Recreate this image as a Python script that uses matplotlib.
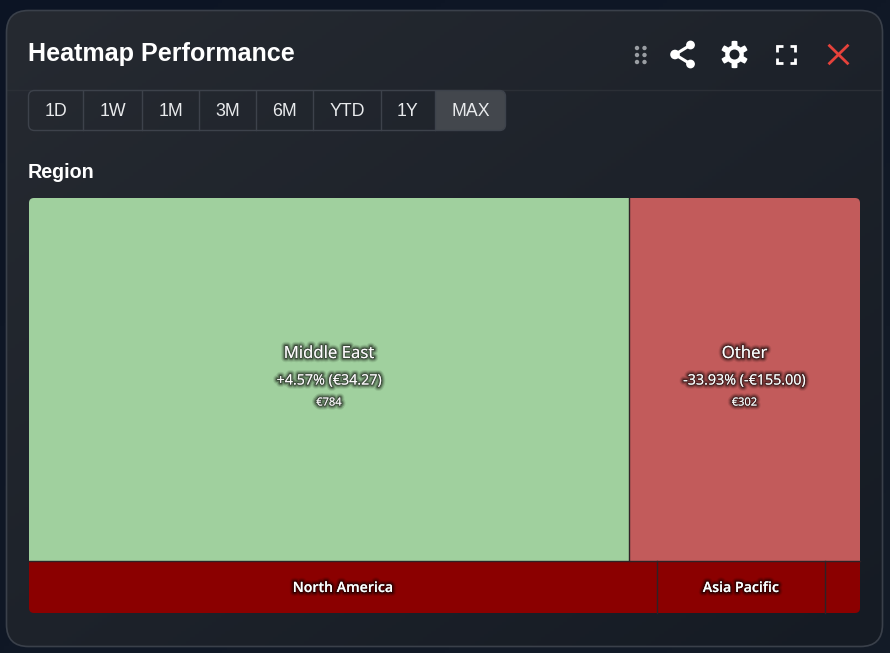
import numpy as np
import matplotlib
matplotlib.use("Agg")
import matplotlib.pyplot as plt
from matplotlib.patches import FancyBboxPatch, Rectangle, Circle, Polygon
import matplotlib.patheffects as pe

# treemap rows, values (EUR)
top_names = ["Middle East", "Other"]
top_values = [784, 302]
top_perf = ["+4.57% (€34.27)", "-33.93% (-€155.00)"]
top_amount = ["€784", "€302"]
top_colors = ["#a0d09e", "#c25b5b"]

bottom_names = ["North America", "Asia Pacific", ""]
bottom_values = [117.9, 31.5, 6.6]
bottom_colors = ["#8b0000", "#8b0000", "#8b0000"]

ranges = ["1D", "1W", "1M", "3M", "6M", "YTD", "1Y", "MAX"]
range_edges = [28, 83, 142, 199, 256, 313, 381, 435, 506]

BOX_X, BOX_Y, BOX_W, BOX_H = 29, 198, 831, 415

fig = plt.figure(figsize=(8.9, 6.53), dpi=100)
ax = fig.add_axes([0, 0, 1, 1])
ax.set_xlim(0, 890)
ax.set_ylim(653, 0)
ax.axis("off")


def gradient(c1, c2, n=200):
    # diagonal blend, top left to bottom right
    xx, yy = np.meshgrid(np.linspace(0, 1, n), np.linspace(0, 1, n))
    t = ((xx + yy) / 2)[..., None]
    return (1 - t) * np.array(matplotlib.colors.to_rgb(c1)) + t * np.array(matplotlib.colors.to_rgb(c2))


# page background
ax.imshow(gradient("#0c1424", "#141c28"), extent=(0, 890, 653, 0), aspect="auto", zorder=0)

# card
card = FancyBboxPatch((6.5, 10.5), 876, 636, boxstyle="round,pad=0,rounding_size=22",
                      fc="none", ec="#3a404a", lw=1.2, zorder=3)
ax.add_patch(card)
im = ax.imshow(gradient("#262a31", "#151b24"), extent=(6, 883, 647, 10), aspect="auto", zorder=1)
im.set_clip_path(card)
ax.set_xlim(0, 890)
ax.set_ylim(653, 0)

ax.plot([7, 882], [89.5, 89.5], color="#2b2f36", lw=1, zorder=2)

ax.text(28, 54, "Heatmap Performance", color="white", fontsize=18.1, fontweight="bold",
        family="Liberation Sans", va="center", ha="left", zorder=5)
ax.text(28, 172.5, "Region", color="white", fontsize=14.2, fontweight="bold",
        family="Liberation Sans", va="center", ha="left", zorder=5)

# range selector
sel_box = FancyBboxPatch((range_edges[0] + .5, 90.5), range_edges[-1] - range_edges[0] - 1, 40,
                         boxstyle="round,pad=0,rounding_size=6", fc="none", ec="#3d424b", lw=1, zorder=4)
ax.add_patch(sel_box)
active = Rectangle((range_edges[-2], 90), range_edges[-1] - range_edges[-2], 41, fc="#43474d", ec="none", zorder=2)
ax.add_patch(active)
active.set_clip_path(sel_box)
for i, lab in enumerate(ranges):
    ax.text((range_edges[i] + range_edges[i + 1]) / 2, 111, lab, color="#e8eaec", fontsize=12.8,
            family="Liberation Sans", ha="center", va="center", zorder=5)
    if i > 0:
        ax.plot([range_edges[i] - .5] * 2, [91, 130], color="#3d424b", lw=1, zorder=4)

# header icons
for dx in (637, 644.5):
    for dy in (48, 55, 62):
        ax.add_patch(Circle((dx, dy), 2.2, fc="#9a9ea3", ec="none", zorder=5))

# share
share_pts = [(690.5, 45), (675, 54.5), (690.5, 64)]
ax.plot([p[0] for p in share_pts], [p[1] for p in share_pts], color="white", lw=2.2, zorder=5)
for p, r in zip(share_pts, (4.4, 4.8, 4.4)):
    ax.add_patch(Circle(p, r, fc="white", ec="none", zorder=5))

# gear
ang = np.linspace(0, 2 * np.pi, 241)
rad = 11.5 + 2.2 * np.clip(3 * np.cos(6 * (ang + np.pi / 6)), -1, 1)
ax.add_patch(Polygon(np.c_[734.5 + rad * np.cos(ang), 54.5 + rad * np.sin(ang)], fc="white", ec="none", zorder=5))
ax.add_patch(Circle((734.5, 54.5), 5, fc="#1b1f26", ec="none", zorder=6))

# fullscreen corners
for sx, sy in ((-1, -1), (1, -1), (-1, 1), (1, 1)):
    cx, cy = 786 + sx * 9, 54.5 + sy * 8.5
    ax.plot([cx - sx * 5.5, cx, cx], [cy, cy, cy - sy * 5.5], color="white", lw=2,
            solid_joinstyle="miter", solid_capstyle="butt", zorder=5)

# close
for s in (1, -1):
    ax.plot([829.5, 847.5], [54.5 - s * 8.8, 54.5 + s * 8.8], color="#e5423b", lw=2, zorder=5)

# treemap, rows scaled by their share of the total
total = sum(top_values) + sum(bottom_values)
top_h = BOX_H * sum(top_values) / total
clip = FancyBboxPatch((BOX_X, BOX_Y), BOX_W, BOX_H, boxstyle="round,pad=0,rounding_size=5",
                      fc="none", ec="none", zorder=2)
ax.add_patch(clip)
# soft dark halo behind the labels
glow = [pe.withStroke(linewidth=6, foreground="#000000", alpha=0.09),
        pe.withStroke(linewidth=4.5, foreground="#000000", alpha=0.15),
        pe.withStroke(linewidth=3, foreground="#000000", alpha=0.25),
        pe.withStroke(linewidth=1.5, foreground="#000000", alpha=0.35)]


def row(values, colors, y, h):
    out = []
    x = BOX_X
    for i, (v, c) in enumerate(zip(values, colors)):
        w = BOX_W * v / sum(values)
        r = Rectangle((x, y), w, h, fc=c, ec="none", zorder=3)
        ax.add_patch(r)
        r.set_clip_path(clip)
        if i > 0:
            ax.plot([x, x], [y, y + h], color="#2e2226", lw=1, zorder=4)
        out.append(x + w / 2)
        x += w
    return out


centers = row(top_values, top_colors, BOX_Y, top_h)
for cx, name, perf, amt in zip(centers, top_names, top_perf, top_amount):
    ax.text(cx, 354, name, color="white", fontsize=12.1, family="Open Sans", ha="center", va="center",
            path_effects=glow, zorder=6)
    ax.text(cx, 381, perf, color="white", fontsize=10.3, family="Open Sans", ha="center", va="center",
            path_effects=glow, zorder=6)
    ax.text(cx, 403, amt, color="white", fontsize=8, family="Open Sans", ha="center", va="center",
            path_effects=glow, zorder=6)

centers = row(bottom_values, bottom_colors, BOX_Y + top_h, BOX_H - top_h)
ax.plot([BOX_X, BOX_X + BOX_W], [BOX_Y + top_h] * 2, color="#2e2226", lw=1, zorder=4)
for cx, name in zip(centers, bottom_names):
    if name:
        ax.text(cx, 588, name, color="white", fontsize=10.2, fontweight="semibold", family="Open Sans",
                ha="center", va="center", path_effects=glow, zorder=6)

fig.savefig("out.png", dpi=100)
